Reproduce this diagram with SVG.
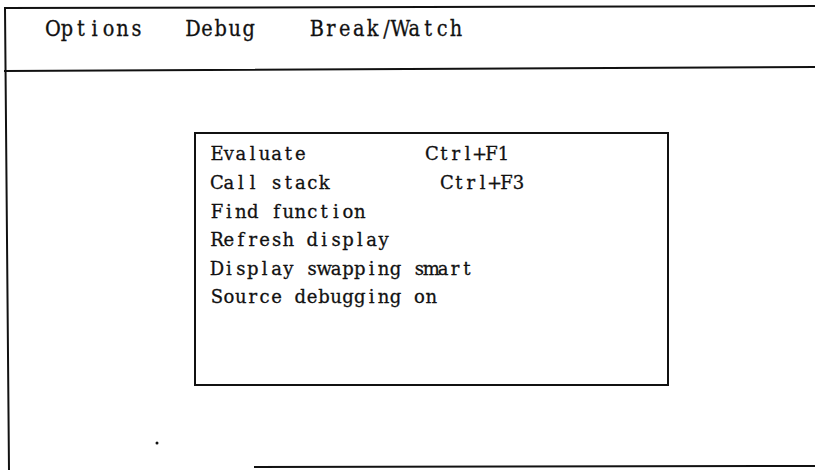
<svg xmlns="http://www.w3.org/2000/svg" width="815" height="470" viewBox="0 0 815 470">
<style>
.ln{stroke:#111;stroke-width:2;fill:none;stroke-linecap:square}
.bar{font-family:"DejaVu Serif","Liberation Serif",serif;font-size:21.5px;fill:#111;text-anchor:middle;stroke:#111;stroke-width:0.3}
.item{font-family:"DejaVu Serif","Liberation Serif",serif;font-size:18px;fill:#111;text-anchor:middle;stroke:#111;stroke-width:0.3}
</style>
<rect width="815" height="470" fill="#fff"/>
<g id="frame">
<line class="ln" x1="5" y1="8" x2="815" y2="6"/>
<line class="ln" x1="5" y1="71" x2="815" y2="67"/>
<line class="ln" x1="5" y1="8" x2="9" y2="470"/>
<line class="ln" x1="255" y1="467" x2="815" y2="466"/>
<circle cx="157" cy="443" r="1.5" fill="#111"/>
</g>
<g id="menubar">
<text class="bar" transform="translate(0,36) scale(0.9,1.05)" x="58.9 74.3 89.8 105.2 120.7 136.1 151.6" y="0">Options</text>
<text class="bar" transform="translate(0,36) scale(0.9,1.05)" x="214.4 229.9 245.3 260.8 276.2" y="0">Debug</text>
<text class="bar" transform="translate(0,36) scale(0.9,1.05)" x="352.2 367.7 383.1 398.6 414 429.4 444.9 460.3 475.8 491.2 506.7" y="0">Break/Watch</text>
</g>
<g id="debug-menu">
<rect class="ln" x="195" y="133" width="473" height="252"/>
<text class="item" x="217 228.9 240.8 252.7 264.6 276.5 288.4 300.3" y="160">Evaluate</text>
<text class="item" x="432 443.9 455.8 467.7 479.6 491.5 503.4" y="160">Ctrl+F1</text>
<text class="item" x="217 228.9 240.8 252.7 264.6 276.5 288.4 300.3 312.2 324.1" y="189">Call stack</text>
<text class="item" x="447 458.9 470.8 482.7 494.6 506.5 518.4" y="189">Ctrl+F3</text>
<text class="item" x="217 228.9 240.8 252.7 264.6 276.5 288.4 300.3 312.2 324.1 336 347.9 359.8" y="218">Find function</text>
<text class="item" x="217 228.9 240.8 252.7 264.6 276.5 288.4 300.3 312.2 324.1 336 347.9 359.8 371.7 383.6" y="246">Refresh display</text>
<text class="item" x="217 228.9 240.8 252.7 264.6 276.5 288.4 300.3 312.2 324.1 336 347.9 359.8 371.7 383.6 395.5 407.4 419.3 431.2 443.1 455 466.9" y="275">Display swapping smart</text>
<text class="item" x="217 228.9 240.8 252.7 264.6 276.5 288.4 300.3 312.2 324.1 336 347.9 359.8 371.7 383.6 395.5 407.4 419.3 431.2" y="303">Source debugging on</text>
</g>
<g id="connectors"/>
</svg>
